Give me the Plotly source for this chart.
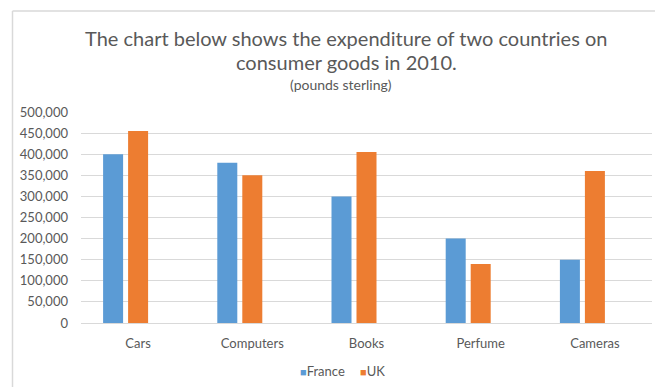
import plotly.graph_objects as go

# Consumer goods expenditure, 2010 (pounds sterling)
categories = ["Cars", "Computers", "Books", "Perfume", "Cameras"]
france = [400000, 380000, 300000, 200000, 150000]
uk = [455000, 350000, 405000, 140000, 360000]
y_ticks = [0, 50000, 100000, 150000, 200000, 250000, 300000, 350000, 400000, 450000, 500000]

BLUE = "#5B9BD5"
ORANGE = "#ED7D31"
TEXT = "#595959"
GRID = "#D9D9D9"
FONT = "Lato, Open Sans, sans-serif"

W, H = 655, 387
L, R, T, B = 81, 3, 112, 64
plot_w = W - L - R
plot_h = H - T - B

# bar geometry in category units (one category = plot_w / 5 px)
cat_px = plot_w / 5
bar_w = 20 / cat_px

fig = go.Figure()
fig.add_trace(go.Bar(
    x=categories, y=france, name="France", marker_color=BLUE,
    width=bar_w, offset=-35 / cat_px, marker_line_width=0,
))
fig.add_trace(go.Bar(
    x=categories, y=uk, name="UK", marker_color=ORANGE,
    width=bar_w, offset=-10 / cat_px, marker_line_width=0,
))


def py(pix):
    """pixel row -> paper y"""
    return (H - B - pix) / plot_h


def px(pix):
    return (pix - L) / plot_w


def legend_item(color, name):
    # coloured square followed by the series name
    return f'<span style="color:{color};font-size:11px">■</span>{name}'


annotations = [
    dict(text="The chart below shows the expenditure of two countries on",
         x=px(346), y=py(38), font=dict(size=20, color=TEXT, family=FONT)),
    dict(text="consumer goods in 2010.",
         x=px(346), y=py(62), font=dict(size=20, color=TEXT, family=FONT)),
    dict(text="(pounds sterling)",
         x=px(341), y=py(85), font=dict(size=14, color=TEXT, family=FONT)),
    dict(text=legend_item(BLUE, "France"), xanchor="left",
         x=px(298), y=py(371), font=dict(size=13, color=TEXT, family=FONT)),
    dict(text=legend_item(ORANGE, "UK"), xanchor="left",
         x=px(358), y=py(371), font=dict(size=13, color=TEXT, family=FONT)),
]
for a in annotations:
    a.setdefault("xanchor", "center")
    a.update(xref="paper", yref="paper", showarrow=False, yanchor="middle")

fig.update_layout(
    width=W, height=H,
    margin=dict(l=L, r=R, t=T, b=B),
    paper_bgcolor="white", plot_bgcolor="white",
    showlegend=False,
    annotations=annotations,
    shapes=[
        dict(type="line", xref="paper", yref="paper",
             x0=px(12.5), x1=px(12.5), y0=py(11), y1=py(H + 5),
             line=dict(color="#D9D9D9", width=1.5)),
        dict(type="line", xref="paper", yref="paper",
             x0=px(12.5), x1=px(W + 5), y0=py(11), y1=py(11),
             line=dict(color="#D9D9D9", width=1.5)),
    ],
)
fig.update_xaxes(
    type="category", range=[-0.5, 4.5],
    showgrid=False, zeroline=False, showline=False, ticks="",
    ticklabelstandoff=11,
    tickfont=dict(size=13, color=TEXT, family=FONT),
)
fig.update_yaxes(
    range=[0, 500000], tickvals=y_ticks,
    tickformat=",", showgrid=True, gridcolor=GRID, gridwidth=1,
    zeroline=True, zerolinecolor=GRID, zerolinewidth=1,
    showline=False, ticks="", ticklabelstandoff=12,
    tickfont=dict(size=13, color=TEXT, family=FONT),
)

fig.write_html("out.html")
